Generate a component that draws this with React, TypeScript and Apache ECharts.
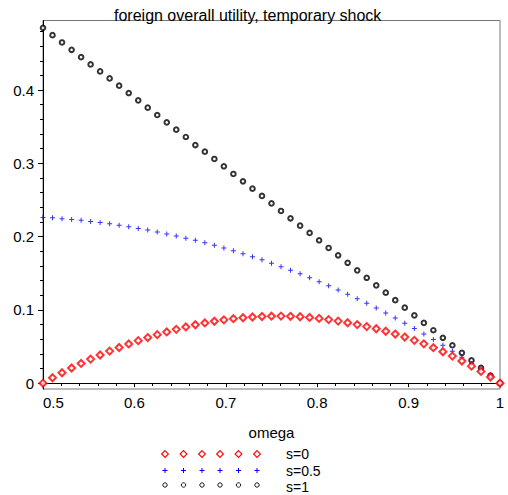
import React, { useEffect, useRef } from "react";
import * as echarts from "echarts";

const titleText = "foreign overall utility, temporary shock";
const xAxisName = "omega";

const omega = [
  0.5, 0.5104, 0.5208, 0.5313, 0.5417, 0.5521, 0.5625, 0.5729, 0.5833, 0.5938,
  0.6042, 0.6146, 0.625, 0.6354, 0.6458, 0.6563, 0.6667, 0.6771, 0.6875, 0.6979,
  0.7083, 0.7188, 0.7292, 0.7396, 0.75, 0.7604, 0.7708, 0.7813, 0.7917, 0.8021,
  0.8125, 0.8229, 0.8333, 0.8438, 0.8542, 0.8646, 0.875, 0.8854, 0.8958, 0.9063,
  0.9167, 0.9271, 0.9375, 0.9479, 0.9583, 0.9688, 0.9792, 0.9896, 1,
];

const s0 = [
  0, 0.0074, 0.0142, 0.0207, 0.0269, 0.0328, 0.0384, 0.0437, 0.0487, 0.0535,
  0.058, 0.0622, 0.0662, 0.0699, 0.0734, 0.0767, 0.0797, 0.0822, 0.0845, 0.0864,
  0.088, 0.0893, 0.0903, 0.091, 0.0914, 0.0915, 0.0912, 0.0906, 0.0897, 0.0884,
  0.0867, 0.0847, 0.0824, 0.0799, 0.0772, 0.0742, 0.0708, 0.067, 0.0629, 0.0584,
  0.0536, 0.0484, 0.0428, 0.0369, 0.0302, 0.0232, 0.016, 0.0084, 0,
];

const s05 = [
  0.2262, 0.2257, 0.2245, 0.2235, 0.2222, 0.2208, 0.2193, 0.2175, 0.2155, 0.2134,
  0.2112, 0.2089, 0.2063, 0.2036, 0.2008, 0.1979, 0.1949, 0.1918, 0.1883, 0.1846,
  0.1807, 0.1767, 0.1726, 0.1683, 0.1636, 0.1587, 0.1541, 0.1492, 0.1439, 0.1385,
  0.1331, 0.1273, 0.1213, 0.1152, 0.109, 0.1025, 0.0959, 0.0889, 0.0819, 0.0745,
  0.067, 0.0594, 0.0516, 0.0436, 0.0352, 0.0268, 0.018, 0.0089, 0,
];

const s1 = [
  0.485, 0.475, 0.465, 0.455, 0.445, 0.435, 0.4255, 0.416, 0.406, 0.396,
  0.386, 0.376, 0.366, 0.356, 0.346, 0.336, 0.325, 0.316, 0.306, 0.296,
  0.2855, 0.2755, 0.2655, 0.2555, 0.2453, 0.235, 0.225, 0.215, 0.205, 0.195,
  0.1845, 0.1745, 0.1643, 0.154, 0.1438, 0.1335, 0.1235, 0.1133, 0.103, 0.0925,
  0.0823, 0.0722, 0.0619, 0.0517, 0.0414, 0.0311, 0.0208, 0.0104, 0,
];

const seriesNames = ["s=0", "s=0.5", "s=1"];
const yMajorTicks = [0, 0.1, 0.2, 0.3, 0.4];
const yMinorTicks = [
  0.02, 0.04, 0.06, 0.08, 0.12, 0.14, 0.16, 0.18, 0.22, 0.24, 0.26, 0.28,
  0.32, 0.34, 0.36, 0.38, 0.42, 0.44, 0.46, 0.48,
];

const FONT = "'Liberation Sans', Arial, sans-serif";
const PLUS = "path://M2,0h1v2h2v1h-2v2h-1v-2h-2v-1h2z";

function legendGraphics() {
  const xs = [165, 183.5, 202, 220, 238.5, 257];
  const rows = [454, 470.5, 486.5];
  const els: any[] = [];
  xs.forEach((x) => {
    const y0 = rows[0];
    els.push({
      type: "polygon",
      shape: { points: [[x, y0 - 3.4], [x + 3.4, y0], [x, y0 + 3.4], [x - 3.4, y0]] },
      style: { fill: "none", stroke: "#ff0000", lineWidth: 1.1 },
    });
    const y1 = rows[1];
    els.push({
      type: "polygon",
      shape: {
        points: [
          [x - 0.5, y1 - 2.5], [x + 0.5, y1 - 2.5], [x + 0.5, y1 - 0.5], [x + 2.5, y1 - 0.5],
          [x + 2.5, y1 + 0.5], [x + 0.5, y1 + 0.5], [x + 0.5, y1 + 2.5], [x - 0.5, y1 + 2.5],
          [x - 0.5, y1 + 0.5], [x - 2.5, y1 + 0.5], [x - 2.5, y1 - 0.5], [x - 0.5, y1 - 0.5],
        ],
      },
      style: { fill: "#0000ff" },
    });
    els.push({
      type: "circle",
      shape: { cx: x, cy: rows[2] - 1.5, r: 2.2 },
      style: { fill: "none", stroke: "#000", lineWidth: 0.9 },
    });
  });
  seriesNames.forEach((n, i) => {
    els.push({
      type: "text",
      x: 286,
      y: rows[i],
      style: { text: n, fill: "#000", font: `14px ${FONT}`, textVerticalAlign: "middle" },
    });
  });
  return els;
}

export default function App() {
  const ref = useRef<HTMLDivElement>(null);
  useEffect(() => {
    if (!ref.current) return;
    const chart = echarts.init(ref.current, null, { renderer: "svg" });
    const toData = (ys: number[]) => omega.map((x, i) => [x, ys[i]]);
    chart.setOption({
      animation: false,
      backgroundColor: "#fff",
      title: {
        text: titleText,
        left: 109,
        top: 2,
        textStyle: { fontFamily: FONT, fontSize: 16, fontWeight: "normal", color: "#000" },
      },
      grid: {
        left: 43,
        right: 8,
        top: 20.5,
        bottom: 106,
        show: true,
        borderColor: "#777",
        borderWidth: 1,
      },
      xAxis: {
        type: "value",
        min: 0.5,
        max: 1,
        interval: 0.1,
        name: xAxisName,
        nameLocation: "middle",
        nameGap: 36,
        nameTextStyle: { fontFamily: FONT, fontSize: 15, color: "#000" },
        axisLine: { lineStyle: { color: "#000", width: 1 } },
        axisTick: { length: 4, lineStyle: { color: "#000" } },
        minorTick: { show: true, splitNumber: 5, length: 3, lineStyle: { color: "#000" } },
        splitLine: { show: false },
        axisLabel: {
          fontFamily: FONT,
          fontSize: 15,
          color: "#000",
          margin: 6,
          alignMinLabel: "left",
          formatter: (v: number) => String(Math.round(v * 10) / 10),
        },
      },
      yAxis: [
        {
          type: "value",
          min: -0.008,
          max: 0.495,
          axisLine: { show: true, lineStyle: { color: "#000", width: 1 } },
          axisTick: { show: true, length: 5, customValues: yMajorTicks, lineStyle: { color: "#000" } },
          splitLine: { show: false },
          axisLabel: {
            customValues: yMajorTicks,
            fontFamily: FONT,
            fontSize: 15,
            color: "#000",
            margin: 9,
            formatter: (v: number) => String(Math.round(v * 10) / 10),
          },
        },
        {
          type: "value",
          min: -0.008,
          max: 0.495,
          position: "left",
          axisLine: { show: false },
          axisTick: { show: true, length: 3, customValues: yMinorTicks, lineStyle: { color: "#000" } },
          splitLine: { show: false },
          axisLabel: { show: false },
        },
      ],
      series: [
        {
          name: seriesNames[2],
          type: "scatter",
          data: toData(s1),
          symbol: "emptyCircle",
          symbolSize: 4.6,
          itemStyle: { color: "#000", borderWidth: 0.9 },
        },
        {
          name: seriesNames[1],
          type: "scatter",
          data: toData(s05),
          symbol: PLUS,
          symbolSize: 5,
          itemStyle: { color: "#0000ff" },
        },
        {
          name: seriesNames[0],
          type: "scatter",
          data: toData(s0),
          symbol: "emptyDiamond",
          symbolSize: 7,
          itemStyle: { color: "#ff0000", borderWidth: 1.1 },
        },
      ],
      graphic: legendGraphics(),
    });
    return () => chart.dispose();
  }, []);
  return <div ref={ref} style={{ width: 508, height: 495, position: "absolute", left: 0, top: 0 }} />;
}
